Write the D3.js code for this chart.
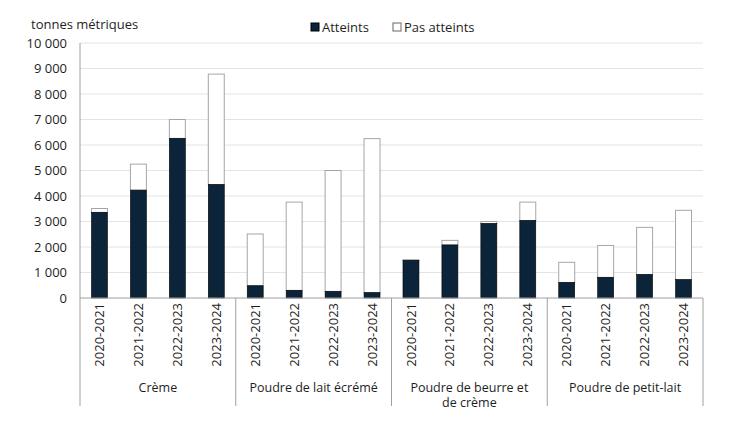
<!DOCTYPE html>
<meta charset="utf-8">
<style>
body { margin: 0; background: #fff; }
svg text { font-family: "Open Sans", "Noto Sans", sans-serif; fill: #1e1e1e; }
</style>
<svg width="750" height="422"></svg>
<script src="https://d3js.org/d3.v7.min.js"></script>
<script>
"use strict";

// data
var groups = ["Crème", "Poudre de lait écrémé", "Poudre de beurre et de crème", "Poudre de petit-lait"];
var years = ["2020-2021", "2021-2022", "2022-2023", "2023-2024"];
var atteints = [
  [3360, 4230, 6260, 4450],
  [480, 300, 260, 210],
  [1480, 2080, 2920, 3040],
  [610, 810, 920, 720]
];
var totaux = [
  [3510, 5250, 7000, 8780],
  [2510, 3760, 5000, 6250],
  [1500, 2260, 3000, 3760],
  [1400, 2060, 2770, 3440]
];
var yTicks = [0, 1000, 2000, 3000, 4000, 5000, 6000, 7000, 8000, 9000, 10000];

var svg = d3.select("svg");
var plotL = 80, plotR = 703, plotT = 43, plotB = 298;

var rows = [];
groups.forEach(function(g, gi) {
  years.forEach(function(yr, yi) {
    rows.push({key: gi + "|" + yr, group: gi, year: yr, a: atteints[gi][yi], t: totaux[gi][yi]});
  });
});

var x = d3.scaleBand().domain(rows.map(function(d) { return d.key; }))
    .range([plotL, plotR]).paddingInner(0.59).paddingOuter(0.295);
var y = d3.scaleLinear().domain([0, 10000]).range([plotB, plotT]);

var fmt = function(v) { return d3.format(",")(v).replace(",", " "); };

// grid
svg.append("g").selectAll("line").data(yTicks.slice(1)).enter().append("line")
  .attr("x1", plotL).attr("x2", plotR)
  .attr("y1", function(d) { return y(d); }).attr("y2", function(d) { return y(d); })
  .attr("stroke", "#e4e4e4").attr("stroke-width", 1);

// y labels
svg.append("g").selectAll("text").data(yTicks).enter().append("text")
  .attr("x", 67).attr("y", function(d) { return y(d); }).attr("dy", "0.35em")
  .attr("text-anchor", "end").attr("font-size", 13)
  .text(function(d) { return fmt(d); });

svg.append("text").attr("x", 31).attr("y", 29).attr("font-size", 13).text("tonnes métriques");

// bars
var bars = svg.append("g").selectAll("g").data(rows).enter().append("g");
bars.append("rect")
  .attr("x", function(d) { return x(d.key); }).attr("width", x.bandwidth())
  .attr("y", function(d) { return y(d.t); }).attr("height", function(d) { return y(d.a) - y(d.t); })
  .attr("fill", "#fff").attr("stroke", "#a6a6a6").attr("stroke-width", 1);
bars.append("rect")
  .attr("x", function(d) { return x(d.key); }).attr("width", x.bandwidth())
  .attr("y", function(d) { return y(d.a); }).attr("height", function(d) { return y(0) - y(d.a); })
  .attr("fill", "#0b2439").attr("stroke", "#000").attr("stroke-width", 0.6);

// axis line + group dividers
svg.append("line").attr("x1", plotL).attr("x2", plotR).attr("y1", plotB).attr("y2", plotB)
  .attr("stroke", "#a0a0a0");
svg.append("line").attr("x1", plotL).attr("x2", plotL).attr("y1", plotT).attr("y2", plotB)
  .attr("stroke", "#a0a0a0");
var step = (plotR - plotL) / groups.length;
svg.append("g").selectAll("line").data(d3.range(groups.length + 1)).enter().append("line")
  .attr("x1", function(i) { return plotL + i * step; }).attr("x2", function(i) { return plotL + i * step; })
  .attr("y1", plotB).attr("y2", 406).attr("stroke", "#a0a0a0");

// year labels
svg.append("g").selectAll("text").data(rows).enter().append("text")
  .attr("transform", function(d) { return "translate(" + (x(d.key) + x.bandwidth() / 2) + ",303) rotate(-90)"; })
  .attr("text-anchor", "end").attr("dy", "0.35em").attr("font-size", 13)
  .text(function(d) { return d.year; });

// group labels
var glab = [["Crème"], ["Poudre de lait écrémé"], ["Poudre de beurre et", "de crème"], ["Poudre de petit-lait"]];
glab.forEach(function(lines, i) {
  lines.forEach(function(l, j) {
    svg.append("text").attr("x", plotL + (i + 0.5) * step).attr("y", 392 + j * 14.5)
      .attr("text-anchor", "middle").attr("font-size", 12.5).text(l);
  });
});

// legend
var legend = [{name: "Atteints", fill: "#0b2439", stroke: "#000", x: 311},
              {name: "Pas atteints", fill: "#fff", stroke: "#666", x: 393}];
var lg = svg.append("g").selectAll("g").data(legend).enter().append("g");
lg.append("rect").attr("x", function(d) { return d.x; }).attr("y", 23).attr("width", 8).attr("height", 8)
  .attr("fill", function(d) { return d.fill; }).attr("stroke", function(d) { return d.stroke; });
lg.append("text").attr("x", function(d) { return d.x + 11; }).attr("y", 27).attr("dy", "0.35em")
  .attr("font-size", 13).text(function(d) { return d.name; });
</script>
